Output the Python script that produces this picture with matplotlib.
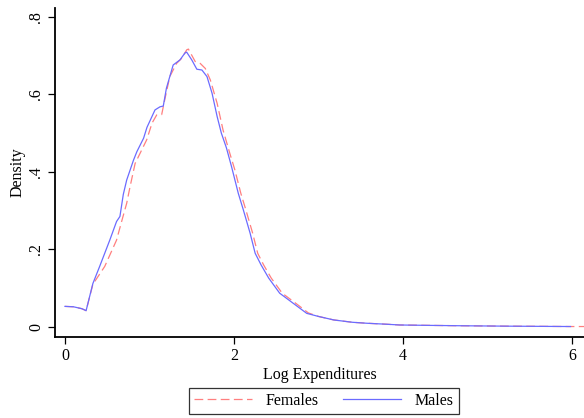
import matplotlib
matplotlib.use("Agg")
import matplotlib.pyplot as plt

# kernel density of log expenditures
x_males = [0.0, 0.1, 0.2, 0.25, 0.33, 0.41, 0.53, 0.61, 0.65, 0.69, 0.73, 0.81,
           0.85, 0.93, 0.97, 1.065, 1.124, 1.163, 1.2, 1.28, 1.36, 1.42, 1.44,
           1.5, 1.56, 1.62, 1.68, 1.74, 1.8, 1.85, 1.91, 1.97, 2.05, 2.11, 2.19,
           2.25, 2.32, 2.41, 2.54, 2.7, 2.86, 3.0, 3.18, 3.4, 3.57, 3.8, 3.96,
           4.3, 4.7, 5.2, 5.6, 5.98]
y_males = [0.053, 0.052, 0.047, 0.042, 0.112, 0.156, 0.224, 0.272, 0.285, 0.342,
           0.379, 0.43, 0.452, 0.487, 0.515, 0.56, 0.568, 0.57, 0.616, 0.676,
           0.689, 0.707, 0.709, 0.689, 0.665, 0.663, 0.646, 0.603, 0.543, 0.50,
           0.462, 0.414, 0.345, 0.302, 0.242, 0.19, 0.16, 0.126, 0.087, 0.061,
           0.035, 0.027, 0.018, 0.012, 0.0095, 0.007, 0.005, 0.004, 0.003,
           0.002, 0.0015, 0.001]

x_females = [0.0, 0.1, 0.2, 0.25, 0.33, 0.47, 0.61, 0.67, 0.73, 0.77, 0.83,
             0.967, 1.03, 1.085, 1.144, 1.18, 1.24, 1.32, 1.38, 1.44, 1.46,
             1.54, 1.6, 1.66, 1.72, 1.8, 1.87, 1.95, 2.01, 2.08, 2.14, 2.22,
             2.28, 2.35, 2.44, 2.57, 2.73, 2.88, 3.0, 3.18, 3.4, 3.57, 3.8,
             3.96, 4.3, 4.7, 5.2, 5.6, 6.0, 6.2]
y_females = [0.053, 0.052, 0.047, 0.042, 0.11, 0.156, 0.224, 0.272, 0.319,
             0.362, 0.422, 0.483, 0.526, 0.547, 0.548, 0.586, 0.646, 0.68,
             0.693, 0.715, 0.717, 0.685, 0.68, 0.667, 0.637, 0.577, 0.508,
             0.448, 0.405, 0.345, 0.302, 0.242, 0.19, 0.16, 0.126, 0.087,
             0.061, 0.036, 0.027, 0.018, 0.012, 0.0095, 0.007, 0.005, 0.004,
             0.003, 0.002, 0.0015, 0.001, 0.001]

x_ticks = [0, 2, 4, 6]
y_ticks = [0, 0.2, 0.4, 0.6, 0.8]
y_tick_labels = ["0", ".2", ".4", ".6", ".8"]

plt.rcParams["font.family"] = ["Liberation Serif", "DejaVu Serif"]

fig = plt.figure(figsize=(5.84, 4.18), dpi=100)
ax = fig.add_axes([55 / 584, 81 / 418, 1 - 55 / 584, 329 / 418])

ax.plot(x_females, y_females, color="#ff7f7f", lw=0.9, dashes=(7, 3.5),
        label="Females")
ax.plot(x_males, y_males, color="#6b6bff", lw=0.9, label="Males")

ax.set_xlim(-0.118, 6.14)
ax.set_ylim(-0.026, 0.823)
ax.set_xticks(x_ticks)
ax.set_xticklabels([str(t) for t in x_ticks])
ax.set_yticks(y_ticks)
ax.set_yticklabels(y_tick_labels, rotation=90, va="center")

for side in ["top", "right"]:
    ax.spines[side].set_visible(False)
for side in ["left", "bottom"]:
    ax.spines[side].set_linewidth(1.3)
ax.tick_params(labelsize=11.5, length=5, width=0.9, pad=3)

ax.set_xlabel("Log Expenditures", fontsize=11.5, labelpad=2)
ax.set_ylabel("Density", fontsize=11.5, labelpad=2)

leg = fig.legend(loc="center", bbox_to_anchor=(324 / 584, 1 - 401 / 418),
                 ncol=2, fontsize=11.5, frameon=True, fancybox=False,
                 handlelength=3.6, columnspacing=1.5, borderpad=0.3,
                 handletextpad=0.9)
leg.get_frame().set_edgecolor("black")
leg.get_frame().set_linewidth(0.9)

fig.savefig("out.png", dpi=100)
